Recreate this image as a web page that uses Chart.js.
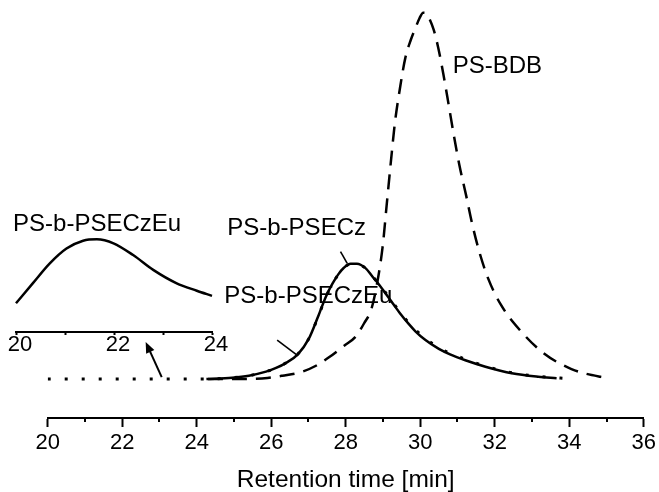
<!DOCTYPE html>
<html>
<head>
<meta charset="utf-8">
<script src="https://cdn.jsdelivr.net/npm/chart.js@4.4.0/dist/chart.umd.min.js"></script>
<style>
  html, body { margin: 0; padding: 0; background: #fff; }
  #wrap { position: relative; width: 659px; height: 492px; }
  #main { position: absolute; left: 0; top: 0; }
  #inset { position: absolute; left: 0; top: 200px; }
</style>
</head>
<body>
<div id="wrap">
  <canvas id="main" width="659" height="492"></canvas>
  <canvas id="inset" width="240" height="170"></canvas>
</div>
<script>
// ---------- data ----------
const xTicksMain = [20, 22, 24, 26, 28, 30, 32, 34, 36];
const xMinorMain = [21, 23, 25, 27, 29, 31, 33, 35];

// PS-BDB (dashed)
const bdbX = [24.3, 25.0, 25.9, 26.3, 26.84, 27.2, 27.55, 27.95, 28.27, 28.5, 28.69, 28.85, 28.99, 29.1, 29.21, 29.32, 29.46, 29.6, 29.75, 29.87, 29.98, 30.08, 30.17, 30.25, 30.36, 30.48, 30.62, 30.76, 30.9, 31.05, 31.23, 31.4, 31.59, 31.83, 32.16, 32.66, 33.28, 34.06, 34.84, 35.0];
const bdbY = [0, 0, 0.3, 0.9, 2.0, 3.6, 5.9, 9.0, 11.6, 15.3, 19.1, 26.5, 36.0, 47.5, 59.0, 69.8, 79.5, 87.5, 92.5, 95.6, 98.3, 99.8, 99.6, 98.1, 95.2, 90.4, 83.1, 74.9, 66.5, 58.3, 50.1, 42.0, 34.5, 27.2, 20.3, 13.5, 7.3, 2.7, 0.6, 0.4];

// PS-b-PSECz (solid)
const eczX = [24.26, 24.95, 25.4, 25.86, 26.13, 26.4, 26.72, 27.01, 27.25, 27.47, 27.64, 27.8, 27.95, 28.13, 28.3, 28.53, 28.71, 28.85, 29.07, 29.25, 29.45, 29.69, 29.87, 30.14, 30.5, 30.8, 31.21, 31.75, 32.46, 33.17, 33.66];
const eczY = [0, 0.35, 0.9, 2.0, 3.0, 4.4, 6.8, 11.0, 16.8, 22.5, 25.9, 28.5, 30.3, 31.4, 31.4, 30.2, 28.0, 26.3, 23.3, 20.8, 18.0, 15.0, 13.0, 10.6, 8.2, 6.7, 5.1, 3.35, 1.55, 0.6, 0.2];

// PS-b-PSECzEu (dotted)
const euX = [20, 22, 24.26, 24.95, 25.4, 25.86, 26.13, 26.4, 26.72, 27.01, 27.25, 27.47, 27.64, 27.8, 27.95, 28.13, 28.3, 28.53, 28.71, 28.85, 29.07, 29.25, 29.45, 29.69, 29.87, 30.14, 30.5, 30.8, 31.21, 31.75, 32.46, 33.17, 33.96];
const euY = [0, 0, 0, 0.35, 0.9, 2.0, 3.0, 4.4, 6.9, 11.0, 16.7, 22.4, 25.8, 28.5, 30.3, 31.3, 31.3, 30.2, 28.1, 26.4, 23.5, 21.0, 18.3, 15.3, 13.4, 11.0, 8.5, 7.0, 5.4, 3.5, 1.7, 0.7, 0.1];

// Inset: PS-b-PSECzEu, 20-24 min
const insetTicks = [20, 21, 22, 23, 24];
const insetX = [20.0, 20.35, 20.69, 21.03, 21.37, 21.65, 21.99, 22.39, 22.8, 23.28, 23.69, 24.0];
const insetY = [0.31, 0.53, 0.74, 0.90, 0.985, 1.0, 0.957, 0.83, 0.67, 0.525, 0.445, 0.39];

// Annotation texts (anchored in data coordinates)
const labelText = ['PS-BDB', 'PS-b-PSECz', 'PS-b-PSECzEu'];
const labelX = [30.87, 24.82, 24.74];
const labelY = [85.3, 41.1, 22.6];
// pointer lines [x1, y1, x2, y2] in data coords
const pointerLines = [[27.86, 34.7, 28.04, 31.5], [26.16, 10.6, 26.72, 6.3]];
const arrowFrom = [23.06, 0.5];
const arrowTo = [22.63, 10.1];
const insetLabel = 'PS-b-PSECzEu';
const insetLabelX = 19.94;
const insetLabelY = 1.165;

// ---------- helpers ----------
const FONT = '"Liberation Sans", Arial, Helvetica, sans-serif';
const zip = (xs, ys) => xs.map((v, i) => ({ x: v, y: ys[i] }));

const mainAnnot = {
  id: 'mainAnnot',
  afterDraw(chart) {
    const { ctx, scales: { x, y }, chartArea } = chart;
    ctx.save();
    // minor ticks
    ctx.strokeStyle = '#000';
    ctx.lineWidth = 2;
    ctx.beginPath();
    xMinorMain.forEach(v => {
      const px = Math.round(x.getPixelForValue(v));
      ctx.moveTo(px, chartArea.bottom);
      ctx.lineTo(px, chartArea.bottom + 4);
    });
    ctx.stroke();
    // labels
    ctx.fillStyle = '#000';
    ctx.font = '24px ' + FONT;
    ctx.textAlign = 'left';
    ctx.textBaseline = 'middle';
    labelText.forEach((t, i) => ctx.fillText(t, x.getPixelForValue(labelX[i]), y.getPixelForValue(labelY[i])));
    // pointer lines
    ctx.lineWidth = 1.6;
    pointerLines.forEach(p => {
      ctx.beginPath();
      ctx.moveTo(x.getPixelForValue(p[0]), y.getPixelForValue(p[1]));
      ctx.lineTo(x.getPixelForValue(p[2]), y.getPixelForValue(p[3]));
      ctx.stroke();
    });
    // arrow
    const ax1 = x.getPixelForValue(arrowFrom[0]), ay1 = y.getPixelForValue(arrowFrom[1]);
    const ax2 = x.getPixelForValue(arrowTo[0]), ay2 = y.getPixelForValue(arrowTo[1]);
    const ang = Math.atan2(ay2 - ay1, ax2 - ax1);
    const hl = 11, hw = 4.5;
    ctx.lineWidth = 2;
    ctx.beginPath();
    ctx.moveTo(ax1, ay1);
    ctx.lineTo(ax2 - Math.cos(ang) * hl * 0.8, ay2 - Math.sin(ang) * hl * 0.8);
    ctx.stroke();
    ctx.beginPath();
    ctx.moveTo(ax2, ay2);
    ctx.lineTo(ax2 - Math.cos(ang) * hl - Math.sin(ang) * hw, ay2 - Math.sin(ang) * hl + Math.cos(ang) * hw);
    ctx.lineTo(ax2 - Math.cos(ang) * hl + Math.sin(ang) * hw, ay2 - Math.sin(ang) * hl - Math.cos(ang) * hw);
    ctx.closePath();
    ctx.fill();
    ctx.restore();
  }
};

const insetAnnot = {
  id: 'insetAnnot',
  afterDraw(chart) {
    const { ctx, scales: { x, y } } = chart;
    ctx.save();
    ctx.fillStyle = '#000';
    ctx.font = '24px ' + FONT;
    ctx.textAlign = 'left';
    ctx.textBaseline = 'middle';
    ctx.fillText(insetLabel, x.getPixelForValue(insetLabelX), y.getPixelForValue(insetLabelY));
    ctx.restore();
  }
};

Chart.defaults.font.family = FONT;
Chart.defaults.color = '#000';

new Chart(document.getElementById('main'), {
  type: 'line',
  data: {
    datasets: [
      { label: 'PS-BDB', data: zip(bdbX, bdbY), borderColor: '#000', borderWidth: 2.5, borderDash: [15, 9], pointRadius: 0, cubicInterpolationMode: 'monotone', fill: false },
      { label: 'PS-b-PSECz', data: zip(eczX, eczY), borderColor: '#000', borderWidth: 2.5, pointRadius: 0, cubicInterpolationMode: 'monotone', fill: false },
      { label: 'PS-b-PSECzEu', data: zip(euX, euY), borderColor: '#000', borderWidth: 3, borderDash: [3, 14], pointRadius: 0, cubicInterpolationMode: 'monotone', fill: false }
    ]
  },
  options: {
    responsive: false,
    animation: false,
    devicePixelRatio: 1,
    layout: { padding: { left: 47.7, right: 13.3, top: 10, bottom: 0 } },
    plugins: { legend: { display: false }, tooltip: { enabled: false } },
    scales: {
      x: {
        type: 'linear', min: 20, max: 36,
        afterBuildTicks: s => { s.ticks = xTicksMain.map(v => ({ value: v })); },
        afterFit: s => { s.height = 74; },
        border: { display: true, color: '#000', width: 2 },
        grid: { display: true, drawOnChartArea: false, drawTicks: true, tickLength: 9, tickColor: '#000', tickWidth: 2 },
        ticks: { font: { size: 22 }, color: '#000', padding: 3, maxRotation: 0, autoSkip: false },
        title: { display: true, text: 'Retention time [min]', font: { size: 24.5, lineHeight: 1 }, color: '#000', padding: 0 }
      },
      y: { type: 'linear', display: false, min: -10.63, max: 100.54 }
    }
  },
  plugins: [mainAnnot]
});

new Chart(document.getElementById('inset'), {
  type: 'line',
  data: {
    datasets: [
      { label: 'PS-b-PSECzEu', data: zip(insetX, insetY), borderColor: '#000', borderWidth: 2.5, pointRadius: 0, cubicInterpolationMode: 'monotone', fill: false, clip: false }
    ]
  },
  options: {
    responsive: false,
    animation: false,
    devicePixelRatio: 1,
    layout: { padding: { left: 16, right: 28, top: 0, bottom: 0 } },
    plugins: { legend: { display: false }, tooltip: { enabled: false } },
    scales: {
      x: {
        type: 'linear', min: 20, max: 24,
        afterBuildTicks: s => { s.ticks = insetTicks.map(v => ({ value: v })); },
        afterFit: s => { s.height = 38; },
        border: { display: true, color: '#000', width: 2 },
        grid: { display: true, drawOnChartArea: false, drawTicks: true, tickLength: 3, tickColor: '#000', tickWidth: 2 },
        ticks: { font: { size: 22 }, color: '#000', padding: -3, labelOffset: 4, maxRotation: 0, autoSkip: false,
                 callback: v => (v % 2 === 0 ? String(v) : '') }
      },
      y: { type: 'linear', display: false, min: 0, max: 1.424 }
    }
  },
  plugins: [insetAnnot]
});
</script>
</body>
</html>
